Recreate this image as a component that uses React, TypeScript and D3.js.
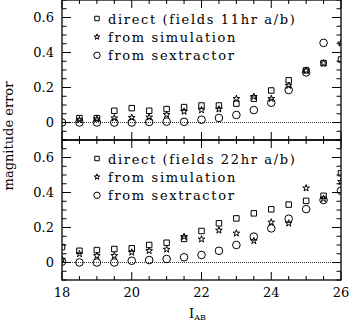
import * as d3 from 'd3'

// magnitudes (I_AB) sampled every 0.5
const mags = [18, 18.5, 19, 19.5, 20, 20.5, 21, 21.5, 22, 22.5, 23, 23.5, 24, 24.5, 25, 25.5, 26]

// fields 11hr a/b
const direct11 = [null, 0.025, 0.025, 0.067, 0.082, 0.067, 0.077, 0.088, 0.097, 0.097, 0.108, 0.136, 0.183, 0.241, 0.298, 0.339, 0.36]
const sim11 = [null, 0.015, 0.02, 0.025, 0.028, 0.03, 0.045, 0.063, 0.071, 0.076, 0.136, 0.148, 0.136, 0.211, 0.298, 0.339, 0.453]
const sex11 = [0, 0, 0, 0, 0, 0.003, 0.005, 0.004, 0.016, 0.026, 0.043, 0.071, 0.113, 0.186, 0.286, 0.455, null]

// fields 22hr a/b
const direct22 = [0.088, 0.067, 0.071, 0.077, 0.081, 0.1, 0.113, 0.135, 0.18, 0.224, 0.252, 0.281, 0.304, 0.331, 0.352, 0.381, 0.51]
const sim22 = [0.018, 0.049, 0.039, 0.039, 0.058, 0.067, 0.075, 0.148, 0.133, 0.184, 0.167, 0.124, 0.23, 0.224, 0.425, 0.364, 0.462]
const sex22 = [0.005, 0, 0, 0, 0.01, 0.014, 0.02, 0.03, 0.043, 0.067, 0.1, 0.148, 0.195, 0.25, 0.305, 0.357, 0.41]

const xTicks = [18, 20, 22, 24, 26]
const yTicks = [0, 0.2, 0.4, 0.6]
const legendNames = ['from simulation', 'from sextractor']

const font = 'DejaVu Serif'
const left = 62
const right = 341
const panelH = 140

const x = d3.scaleLinear().domain([18, 26]).range([left, right])

const sym = {
  square: d3.symbol(d3.symbolSquare, 30)(),
  star: d3.symbol(d3.symbolStar, 14)(),
  squareSmall: d3.symbol(d3.symbolSquare, 20)(),
  starSmall: d3.symbol(d3.symbolStar, 10)(),
}

function Marker({ kind, cx, cy, small = false }) {
  if (kind === 'circle') return <circle cx={cx} cy={cy} r={small ? 3.2 : 3.8} fill="none" stroke="#000" strokeWidth={1} />
  const d = sym[small ? kind + 'Small' : kind]
  return <path d={d} transform={`translate(${cx},${cy})`} fill="none" stroke="#000" strokeWidth={1} />
}

function Panel({ top, id, series, title }) {
  const y = d3.scaleLinear().domain([-0.1, 0.7]).range([top + panelH, top])
  const minorX = d3.range(18, 26.01, 0.5)
  const minorY = d3.range(-0.1, 0.701, 0.05)
  const kinds = ['square', 'star', 'circle']
  const labels = [title, ...legendNames]
  const rowY = [0, 1, 2].map(i => y(0.6) + 1 + i * 18.4)
  return (
    <g>
      <defs>
        <clipPath id={id}>
          <rect x={left} y={top} width={right - left} height={panelH} />
        </clipPath>
      </defs>
      <line x1={left} x2={right} y1={y(0)} y2={y(0)} stroke="#000" strokeWidth={0.8} strokeDasharray="1,1" />
      <g clipPath={`url(#${id})`}>
        {series.map((vals, si) =>
          vals.map((v, i) => v === null ? null : (
            <Marker key={`${si}-${i}`} kind={kinds[si]} cx={x(mags[i])} cy={y(v)} />
          ))
        )}
      </g>
      {minorX.map(t => {
        const major = Math.abs(t % 2) < 1e-6
        const len = major ? 8 : 4
        return (
          <g key={`x${t}`} stroke="#000" strokeWidth={1}>
            <line x1={x(t)} x2={x(t)} y1={top} y2={top + len} />
            <line x1={x(t)} x2={x(t)} y1={top + panelH} y2={top + panelH - len} />
          </g>
        )
      })}
      {minorY.map(t => {
        const major = yTicks.some(m => Math.abs(m - t) < 1e-6)
        const len = major ? 9 : 4.5
        return (
          <g key={`y${t.toFixed(2)}`} stroke="#000" strokeWidth={1}>
            <line x1={left} x2={left + len} y1={y(t)} y2={y(t)} />
            <line x1={right} x2={right - len} y1={y(t)} y2={y(t)} />
          </g>
        )
      })}
      {yTicks.map(t => (
        <text key={`yl${t}`} x={54} y={y(t) + 4.5} textAnchor="end" fontFamily={font} fontSize={13}>
          {t === 0 ? '0' : d3.format('.1f')(t)}
        </text>
      ))}
      {labels.map((lab, i) => (
        <g key={lab}>
          <Marker kind={kinds[i]} cx={97} cy={rowY[i]} small />
          <text x={108} y={rowY[i] + 5} fontFamily={font} fontSize={13} letterSpacing={1.65}>{lab}</text>
        </g>
      ))}
      <rect x={left} y={top} width={right - left} height={panelH} fill="none" stroke="#000" strokeWidth={1.3} />
    </g>
  )
}

export default function App() {
  return (
    <svg width={349} height={324} style={{ position: 'absolute', left: 0, top: 0, background: '#fff' }}>
      <Panel top={0} id="clipTop" series={[direct11, sim11, sex11]} title="direct (fields 11hr a/b)" />
      <Panel top={140} id="clipBot" series={[direct22, sim22, sex22]} title="direct (fields 22hr a/b)" />
      {xTicks.map(t => (
        <text key={t} x={x(t)} y={297} textAnchor="middle" fontFamily={font} fontSize={13}>{t}</text>
      ))}
      <text x={x(22) - 4} y={318} textAnchor="middle" fontFamily={font} fontSize={13}>
        I<tspan fontSize={8} dy={2}>AB</tspan>
      </text>
      <text transform="translate(13,136) rotate(-90)" textAnchor="middle" fontFamily={font} fontSize={13}>
        magnitude error
      </text>
    </svg>
  )
}
